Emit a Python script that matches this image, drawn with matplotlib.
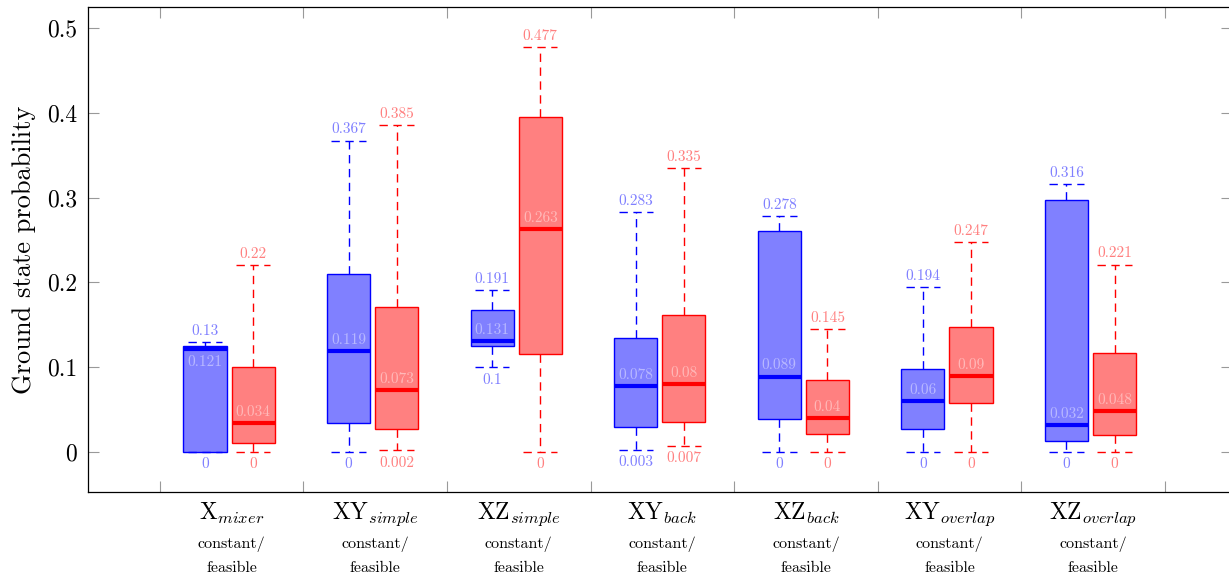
import matplotlib
matplotlib.use("Agg")
import matplotlib.pyplot as plt

plt.rcParams['font.family'] = ['cmr10', 'DejaVu Serif']
plt.rcParams['mathtext.fontset'] = 'cm'
plt.rcParams['axes.formatter.use_mathtext'] = True

# data
names = [r"$\mathrm{X}_{mixer}$", r"$\mathrm{XY}_{simple}$", r"$\mathrm{XZ}_{simple}$",
         r"$\mathrm{XY}_{back}$", r"$\mathrm{XZ}_{back}$", r"$\mathrm{XY}_{overlap}$",
         r"$\mathrm{XZ}_{overlap}$"]
sub1 = "constant/"
sub2 = "feasible"

# constant (blue)
c_low = [0, 0, 0.1, 0.003, 0, 0, 0]
c_q1 = [0.0, 0.0346, 0.125, 0.030, 0.039, 0.0275, 0.013]
c_med = [0.121, 0.119, 0.131, 0.078, 0.089, 0.06, 0.032]
c_q3 = [0.125, 0.210, 0.168, 0.135, 0.260, 0.0975, 0.297]
c_high = [0.13, 0.367, 0.191, 0.283, 0.278, 0.194, 0.316]

# feasible (red)
f_low = [0, 0.002, 0, 0.007, 0, 0, 0]
f_q1 = [0.0106, 0.0267, 0.1156, 0.035, 0.021, 0.0574, 0.0197]
f_med = [0.034, 0.073, 0.263, 0.08, 0.04, 0.09, 0.048]
f_q3 = [0.100, 0.1714, 0.395, 0.1616, 0.085, 0.147, 0.1164]
f_high = [0.22, 0.385, 0.477, 0.335, 0.145, 0.247, 0.221]

yticks = [0, 0.1, 0.2, 0.3, 0.4, 0.5]
ytick_labels = ["0", "0.1", "0.2", "0.3", "0.4", "0.5"]

fig = plt.figure(figsize=(12.29, 5.77), dpi=100)
ax = fig.add_axes([88 / 1229, 85 / 577, 1144 / 1229, 485 / 577])

centers = list(range(1, len(names) + 1))
width = 0.30
dash = (0, (6, 4))


def draw_set(low, q1, med, q3, high, offset, col, light, medlight):
    stats = []
    for i in range(len(med)):
        stats.append({'whislo': low[i], 'q1': q1[i], 'med': med[i],
                      'q3': q3[i], 'whishi': high[i], 'fliers': []})
    pos = [c + offset for c in centers]
    ax.bxp(stats, positions=pos, widths=width, patch_artist=True,
           showfliers=False, capwidths=0.24,
           boxprops=dict(facecolor=light, edgecolor=col, linewidth=1.0),
           medianprops=dict(color=col, linewidth=3.0),
           whiskerprops=dict(color=col, linewidth=1.0, linestyle=dash),
           capprops=dict(color=col, linewidth=1.0, linestyle=dash))
    for i, p in enumerate(pos):
        ax.annotate("{:g}".format(high[i]), (p, high[i]), xytext=(0, 3),
                    textcoords='offset points', ha='center', va='bottom',
                    fontsize=11, color=light)
        ax.annotate("{:g}".format(low[i]), (p, low[i]), xytext=(0, -4),
                    textcoords='offset points', ha='center', va='top',
                    fontsize=11, color=light)
        # median label goes under the line when the box top is too close
        if q3[i] - med[i] < 0.01:
            dy, va = -4, 'top'
        else:
            dy, va = 3, 'bottom'
        ax.annotate("{:g}".format(med[i]), (p, med[i]), xytext=(0, dy),
                    textcoords='offset points', ha='center', va=va,
                    fontsize=11, color=medlight)


draw_set(c_low, c_q1, c_med, c_q3, c_high, -0.185, '#0000ff', '#8080ff', '#b8b8ff')
draw_set(f_low, f_q1, f_med, f_q3, f_high, 0.15, '#ff0000', '#ff8080', '#ffb8b8')

ax.set_xlim(0, 7.968)
ax.set_ylim(-0.047, 0.5245)
ax.set_yticks(yticks)
ax.set_yticklabels(ytick_labels, fontsize=17)
ax.set_xticks([c + 0.5 for c in [0] + centers])
ax.set_xticklabels([])
ax.tick_params(direction='in', length=8, width=0.8, color='#999999',
               top=True, right=True, pad=8)
ax.set_ylabel("Ground state probability", fontsize=19, labelpad=8)

tr = ax.get_xaxis_transform()
for c, n in zip(centers, names):
    ax.text(c, -0.045, n, transform=tr, ha='center', va='center', fontsize=17)
    ax.text(c, -0.107, sub1, transform=tr, ha='center', va='center', fontsize=11.5)
    ax.text(c, -0.157, sub2, transform=tr, ha='center', va='center', fontsize=11.5)

for s in ax.spines.values():
    s.set_linewidth(0.9)

fig.savefig("out.png", dpi=100)
